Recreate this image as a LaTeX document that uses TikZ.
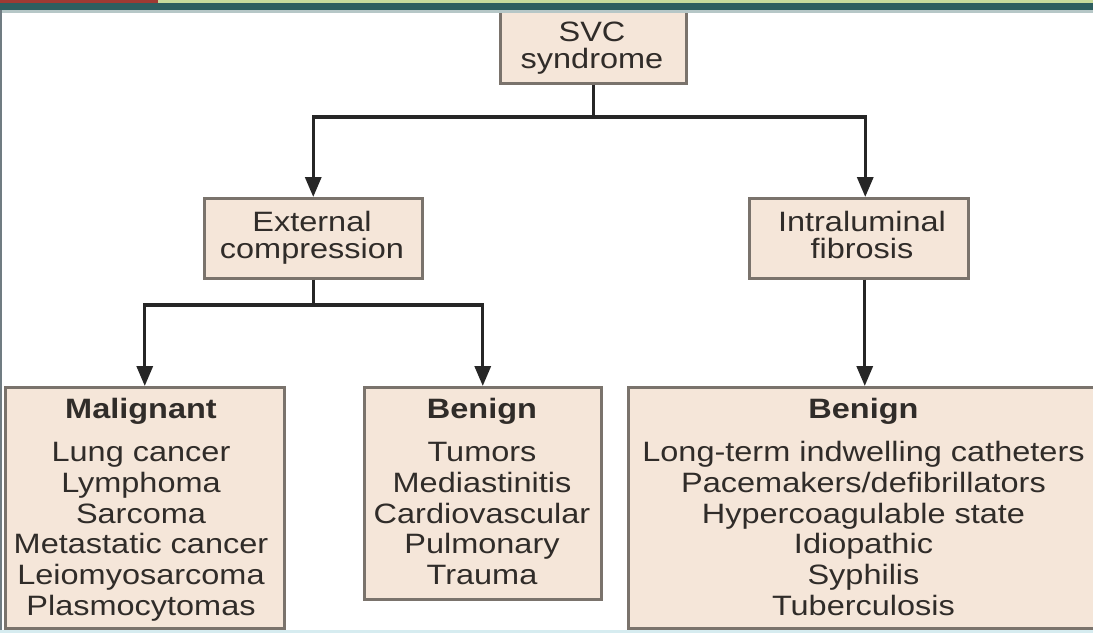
\documentclass[tikz,border=0pt]{standalone}
\usepackage{fontspec}
\setmainfont{Liberation Sans}[FakeStretch=1.16]
\usetikzlibrary{arrows.meta}
\definecolor{boxfill}{HTML}{F5E6D9}
\definecolor{boxline}{HTML}{7A736C}
\definecolor{txt}{HTML}{302C29}
\definecolor{connc}{HTML}{262626}
\definecolor{barteal}{HTML}{2E5E5F}
\definecolor{barred}{HTML}{9E3A33}
\definecolor{bargreen}{HTML}{C8DB9C}
\definecolor{edgecyan}{HTML}{D6ECF0}
\definecolor{edgegrey}{HTML}{707C82}
\begin{document}
\begin{tikzpicture}[x=1pt,y=-1pt,
  box/.style={draw=boxline, line width=2.5pt, fill=boxfill, inner sep=0pt, anchor=north west},
  lbl/.style={text=txt, align=center, inner sep=0pt, anchor=north, font=\fontsize{28}{27}\selectfont},
  list/.style={text=txt, align=center, inner sep=0pt, anchor=north, font=\fontsize{28}{30.7}\selectfont},
  conn/.style={draw=connc, line width=3.3pt},
  arr/.style={conn, -{Triangle[length=20pt,width=16pt]}},
]
\useasboundingbox (0,0) rectangle (1093,633);
\fill[white] (0,0) rectangle (1093,633);

% boxes
\node[box, minimum width=186, minimum height=74] (svc) at (499,8) {};
\node[box, minimum width=218, minimum height=80] (ext) at (203,197) {};
\node[box, minimum width=219, minimum height=80] (intra) at (748,197) {};
\node[box, minimum width=279, minimum height=241] (mal) at (4,386) {};
\node[box, minimum width=237, minimum height=212] (ben1) at (363,386) {};
\node[box, minimum width=473, minimum height=241] (ben2) at (627,386) {};

% texts
\node[lbl] (svct) at (592,22) {SVC\\syndrome};
\node[lbl] (extt) at (312,211) {External\\compression};
\node[lbl] (intrat) at (862,211) {Intraluminal\\fibrosis};
\node[list] (malt) at (141,397.6) {\textbf{Malignant}\\[13pt]Lung cancer\\Lymphoma\\Sarcoma\\Metastatic cancer\\Leiomyosarcoma\\Plasmocytomas};
\node[list] (ben1t) at (482,397.6) {\textbf{Benign}\\[13pt]Tumors\\Mediastinitis\\Cardiovascular\\Pulmonary\\Trauma};
\node[list] (ben2t) at (863.5,397.6) {\textbf{Benign}\\[13pt]Long-term indwelling catheters\\Pacemakers/defibrillators\\Hypercoagulable state\\Idiopathic\\Syphilis\\Tuberculosis};

% connectors
\coordinate (j1) at (svc.south |- 0,117);
\coordinate (j2) at (ext.south |- 0,305);
\draw[conn] (svc.south) -- (j1);
\draw[arr] (j1) -| (ext.north);
\draw[arr] (j1) -| ([xshift=6.5pt]intra.north);
\draw[conn] (ext.south) -- (j2);
\draw[arr] (j2) -| (mal.north);
\draw[arr] (j2) -| (ben1.north);
\draw[arr] ([xshift=6pt]intra.south) -- (ben2.north);

% frame decoration
\fill[barteal!35] (0,10) rectangle (1093,12.5);
\fill[barteal] (0,2) rectangle (1093,10);
\fill[barred] (0,0) rectangle (158,2.5);
\fill[bargreen] (158,0) rectangle (1093,2.5);
\fill[edgegrey] (0,10) rectangle (1.8,633);
\fill[edgecyan] (0,629.5) rectangle (1093,633);
\end{tikzpicture}
\end{document}
